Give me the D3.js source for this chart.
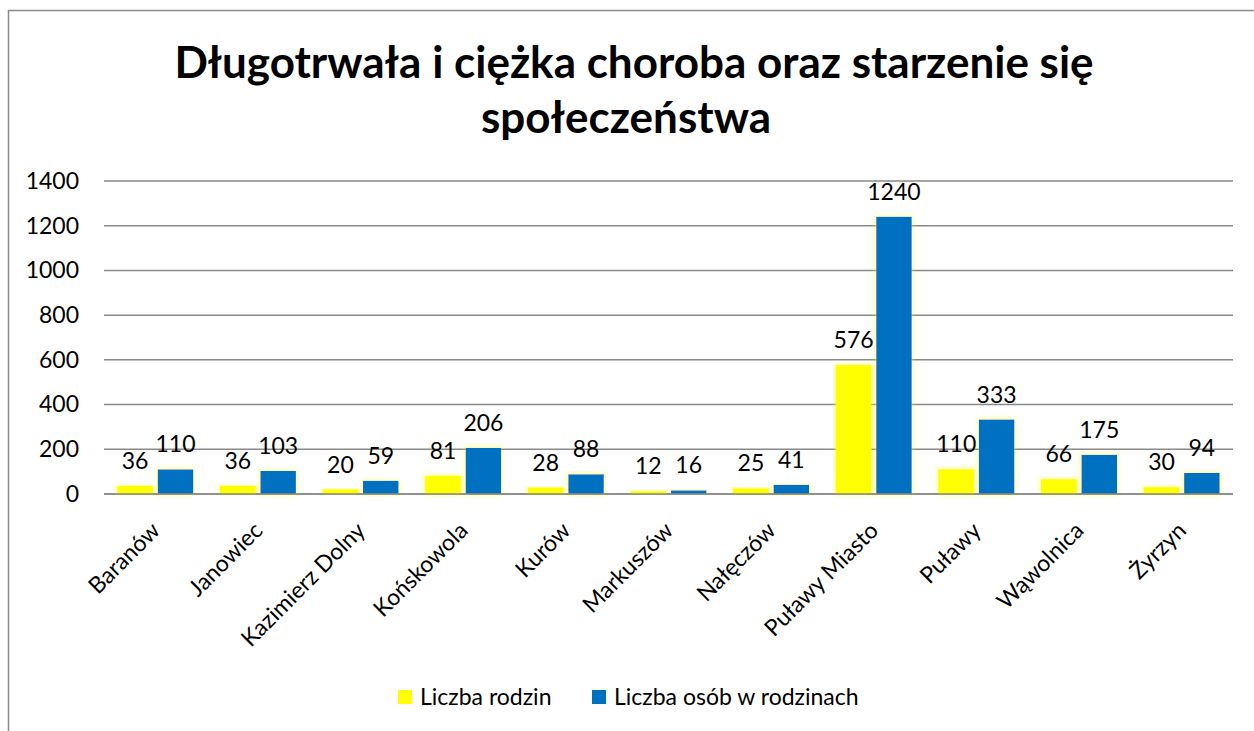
<!DOCTYPE html>
<html>
<head>
<meta charset="utf-8">
<script src="https://cdn.jsdelivr.net/npm/d3@7"></script>
<style>
  body { margin: 0; background: #fff; }
  svg { display: block; font-family: Lato, "Open Sans", sans-serif; }
</style>
</head>
<body>
<svg class="wykres" width="1254" height="731"></svg>
<script>
const gminy = ["Baranów", "Janowiec", "Kazimierz Dolny", "Końskowola", "Kurów", "Markuszów",
  "Nałęczów", "Puławy Miasto", "Puławy", "Wąwolnica", "Żyrzyn"];
const liczbaRodzin = [36, 36, 20, 81, 28, 12, 25, 576, 110, 66, 30];
const liczbaOsob = [110, 103, 59, 206, 88, 16, 41, 1240, 333, 175, 94];
const serie = ["Liczba rodzin", "Liczba osób w rodzinach"];
const yTicks = [0, 200, 400, 600, 800, 1000, 1200, 1400];
const tytul = ["Długotrwała i ciężka choroba oraz starzenie się", "społeczeństwa"];

const kolory = ["#FFFF00", "#0070C0"];
const width = 1254, height = 731;
const margin = { top: 181, right: 21, bottom: 237, left: 104 };
const fs = 23;

const svg = d3.select(".wykres");

// glow pod slupkami
const defs = svg.append("defs");
const glow = defs.append("filter").attr("id", "glow")
  .attr("x", "-20%").attr("y", "-20%").attr("width", "140%").attr("height", "140%");
glow.append("feMorphology").attr("in", "SourceAlpha").attr("operator", "dilate").attr("radius", 1).attr("result", "d");
glow.append("feGaussianBlur").attr("in", "d").attr("stdDeviation", 2).attr("result", "b");
glow.append("feFlood").attr("flood-color", "#FFFF00").attr("flood-opacity", 0.5);
glow.append("feComposite").attr("in2", "b").attr("operator", "in").attr("result", "g");
const merge = glow.append("feMerge");
merge.append("feMergeNode").attr("in", "g");
merge.append("feMergeNode").attr("in", "SourceGraphic");

// ramka
svg.append("path")
  .attr("d", `M${width},10.5 H8.5 V${height}`)
  .attr("fill", "none")
  .attr("stroke", "#8c8c8c")
  .attr("stroke-width", 1.5);

// tytul
svg.append("text")
  .attr("x", 634).attr("y", 78)
  .attr("text-anchor", "middle")
  .attr("font-weight", "bold")
  .attr("font-size", 44)
  .text(tytul[0]);
svg.append("text")
  .attr("x", 626).attr("y", 133)
  .attr("text-anchor", "middle")
  .attr("font-weight", "bold")
  .attr("font-size", 44)
  .text(tytul[1]);

// skale
const x = d3.scaleBand()
  .domain(gminy)
  .range([margin.left, width - margin.right])
  .paddingInner(0.26)
  .paddingOuter(0.13);

const xs = d3.scaleBand()
  .domain(serie)
  .range([0, x.bandwidth()])
  .paddingInner(0.12);

const y = d3.scaleLinear()
  .domain([0, 1400])
  .range([height - margin.bottom, margin.top]);

// siatka
svg.append("g")
  .selectAll("line")
  .data(yTicks)
  .join("line")
  .attr("x1", margin.left)
  .attr("x2", width - margin.right)
  .attr("y1", d => y(d))
  .attr("y2", d => y(d))
  .attr("stroke", "#898989")
  .attr("stroke-width", 1.5);

// os y
const osY = svg.append("g")
  .attr("transform", `translate(${margin.left}, 0)`)
  .call(d3.axisLeft(y).tickValues(yTicks).tickFormat(d3.format("d")).tickSize(0).tickPadding(25));
osY.select(".domain").remove();
osY.selectAll("text")
  .attr("font-size", fs)
  .attr("font-family", "Lato, sans-serif")
  .attr("fill", "#000");

// slupki
const dane = gminy.map((g, i) => ({ gmina: g, wartosci: [liczbaRodzin[i], liczbaOsob[i]] }));

const grupy = svg.append("g")
  .selectAll("g")
  .data(dane)
  .join("g")
  .attr("transform", d => `translate(${x(d.gmina)}, 0)`);

grupy.selectAll("rect")
  .data(d => d.wartosci.map((v, j) => ({ seria: serie[j], v: v, j: j })))
  .join("rect")
  .attr("x", d => xs(d.seria))
  .attr("y", d => y(d.v))
  .attr("width", xs.bandwidth())
  .attr("height", d => y(0) - y(d.v))
  .attr("fill", d => kolory[d.j])
  .attr("filter", "url(#glow)");

grupy.selectAll("text")
  .data(d => d.wartosci.map((v, j) => ({ seria: serie[j], v: v, j: j })))
  .join("text")
  .attr("x", d => xs(d.seria) + xs.bandwidth() / 2)
  .attr("y", d => y(d.v) - 17)
  .attr("text-anchor", "middle")
  .attr("font-size", fs)
  .text(d => d.v);

// linia zera
svg.append("line")
  .attr("x1", margin.left)
  .attr("x2", width - margin.right)
  .attr("y1", y(0))
  .attr("y2", y(0))
  .attr("stroke", "#898989")
  .attr("stroke-width", 1.5);

// os x
const osX = svg.append("g")
  .attr("transform", `translate(0, ${y(0)})`)
  .call(d3.axisBottom(x).tickSize(0).tickPadding(0));
osX.select(".domain").remove();
osX.selectAll("text")
  .attr("font-size", fs)
  .attr("font-family", "Lato, sans-serif")
  .attr("fill", "#000")
  .attr("text-anchor", "end")
  .attr("y", 0)
  .attr("dy", 0)
  .attr("transform", "translate(6, 38) rotate(-45)");

// legenda
const legenda = svg.append("g").attr("transform", "translate(398, 690)");
const pozycje = [0, 194];
serie.forEach((s, i) => {
  const g = legenda.append("g").attr("transform", `translate(${pozycje[i]}, 0)`);
  g.append("rect").attr("width", 14).attr("height", 14).attr("fill", kolory[i]);
  g.append("text").attr("x", 22).attr("y", 7).attr("dy", "0.35em")
    .attr("font-size", fs).text(s);
});
</script>
</body>
</html>
